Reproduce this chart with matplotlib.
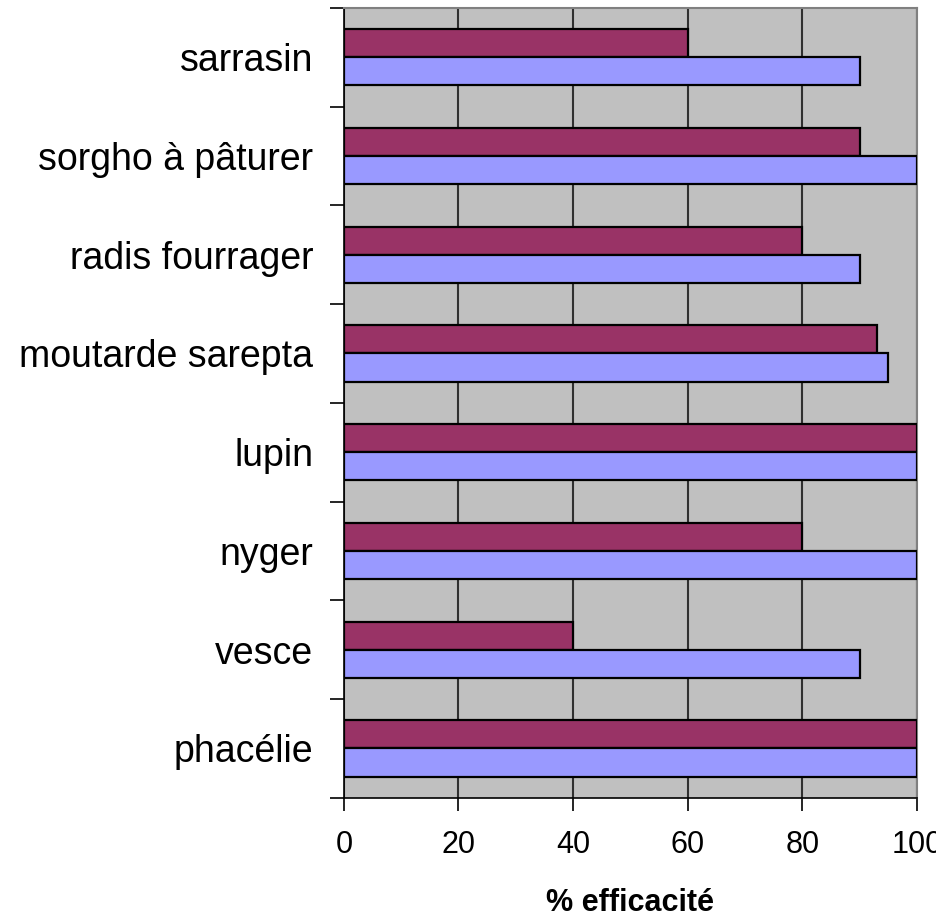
import numpy as np
import matplotlib
matplotlib.use("Agg")
import matplotlib.pyplot as plt

plt.rcParams['font.family'] = ['Liberation Sans', 'DejaVu Sans']

# data, bottom to top as drawn
cultures = ['phacélie', 'vesce', 'nyger', 'lupin', 'moutarde sarepta',
            'radis fourrager', 'sorgho à pâturer', 'sarrasin']
serie_1 = [100, 40, 80, 100, 93, 80, 90, 60]   # maroon
serie_2 = [100, 90, 100, 100, 95, 90, 100, 90]  # blue
x_ticks = [0, 20, 40, 60, 80, 100]

fig = plt.figure(figsize=(9.37, 9.17), dpi=100)
ax = fig.add_axes([0.367, 0.130, 0.6115, 0.8615])

y = np.arange(len(cultures))
h = 0.285
ax.barh(y + h / 2, serie_1, height=h, color='#993366', edgecolor='black', linewidth=1.6, zorder=3)
ax.barh(y - h / 2, serie_2, height=h, color='#9999FF', edgecolor='black', linewidth=1.6, zorder=3)

ax.set_facecolor('#C0C0C0')
ax.set_xlim(0, 100)
ax.set_ylim(-0.5, len(cultures) - 0.5)

# gridlines
ax.set_xticks(x_ticks)
ax.xaxis.grid(True, color='#303030', linewidth=1.5, zorder=1)
ax.set_axisbelow(True)

ax.set_yticks(y)
ax.set_yticklabels(cultures, fontsize=27)
ax.set_yticks(np.arange(-0.5, len(cultures)), minor=True)
ax.tick_params(axis='y', which='major', length=0, pad=22)
ax.tick_params(axis='y', which='minor', length=10, width=1.2, direction='out')
ax.tick_params(axis='x', length=9, width=1.2, direction='out', labelsize=22, pad=14)

for s in ['top', 'right']:
    ax.spines[s].set_color('#808080')
    ax.spines[s].set_linewidth(1.5)
for s in ['left', 'bottom']:
    ax.spines[s].set_color('black')
    ax.spines[s].set_linewidth(1.2)

ax.set_xlabel('% efficacité', fontsize=22, fontweight='bold', labelpad=20)

fig.savefig('out.png', dpi=100)
